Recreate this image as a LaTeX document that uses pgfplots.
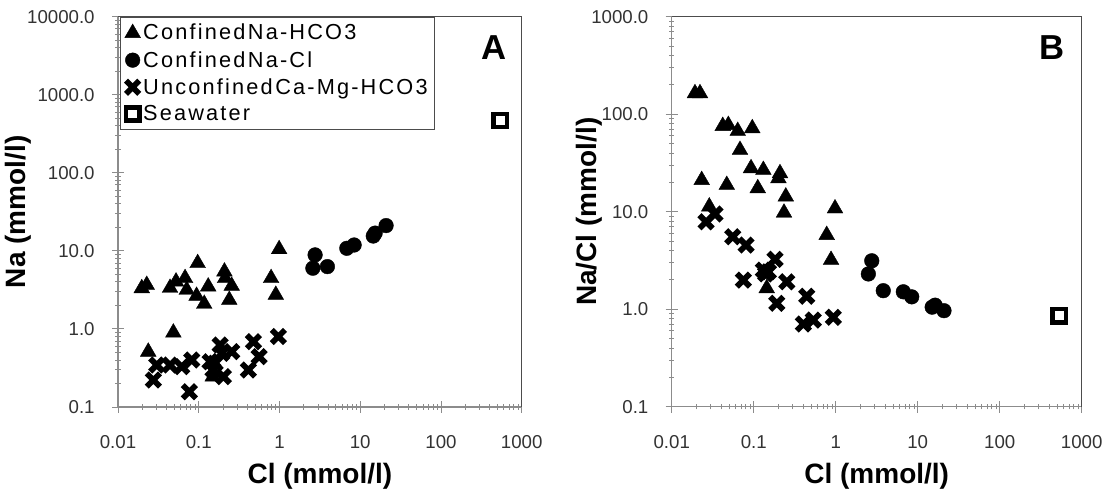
\documentclass[border=0pt]{standalone}
\usepackage{fontspec}
\setmainfont{Liberation Sans}
\newfontfamily\legfont[LetterSpace=10]{Liberation Sans}
\usepackage{pgfplots}
\pgfplotsset{compat=1.18}

\pgfplotsset{
 mylegimg/.style={legend image code/.code={\draw[mark repeat=2,mark phase=2,##1] plot coordinates {(0pt,0pt)(13pt,0pt)(26pt,0pt)};}},
 tri/.style={only marks, mark=triangle*, mark size=6.8pt, mark options={fill=black, draw=black, line width=0.3pt}},
 circ/.style={only marks, mark=*, mark size=5.5pt, mark options={fill=black, draw=black, line width=0.3pt}},
 crs/.style={only marks, mark=x, mark size=7pt, every mark/.append style={line width=4.3pt, draw=black}},
 sqr/.style={only marks, mark=square, mark size=5pt, every mark/.append style={line width=3.4pt, draw=black, fill=white}},
}

\begin{document}
\begin{tikzpicture}
\useasboundingbox (0,0) rectangle (830.25pt,369.75pt);

% ---------------- Panel A ----------------
\begin{axis}[
  xmode=log, ymode=log, scale only axis,
  at={(88.5pt,64.5pt)}, anchor=south west,
  width=302.8pt, height=292.7pt,
  xmin=0.01, xmax=1000,
  xtick={0.01,0.1,1,10,100,1000},
  xticklabels={0.01,0.1,1,10,100,1000},
  minor xtick={0.02,0.03,0.04,0.05,0.06,0.07,0.08,0.09,0.2,0.3,0.4,0.5,0.6,0.7,0.8,0.9,2,3,4,5,6,7,8,9,20,30,40,50,60,70,80,90,200,300,400,500,600,700,800,900},
  ymin=0.1, ymax=10000,
  ytick={0.1,1,10,100,1000,10000},
  yticklabels={0.1,1.0,10.0,100.0,1000.0,10000.0},
  minor ytick={0.2,0.3,0.4,0.5,0.6,0.7,0.8,0.9,2,3,4,5,6,7,8,9,20,30,40,50,60,70,80,90,200,300,400,500,600,700,800,900,2000,3000,4000,5000,6000,7000,8000,9000},
  axis x line*=bottom, axis y line*=left,
  axis line style={black!45, line width=0.9pt, -},
  every tick/.append style={black!45, line width=0.7pt},
  tick align=center,
  major tick length=9pt, minor tick length=4pt,
  tick label style={font=\fontsize{14}{16}\selectfont, text=black!80},
  xticklabel style={anchor=base, yshift=-26.8pt},
  yticklabel style={anchor=east, xshift=-9.5pt},
  label style={font=\fontsize{21}{24}\selectfont\bfseries},
  clip=false,
  xlabel={Cl (mmol/l)}, ylabel={Na (mmol/l)},
  xlabel style={at={(axis description cs:0.5,-0.177)}, anchor=center},
  ylabel style={at={(axis description cs:-0.2477,0.5)}, anchor=center},
  legend style={at={(axis description cs:0.005,1)}, anchor=north west,
    draw=black!70, line width=0.8pt, fill=white,
    font=\legfont\fontsize{16.3}{18}\selectfont,
    inner sep=3.2pt, row sep=3.0pt},
  legend cell align=left,
  mylegimg,
]
\addplot[tri] coordinates {
(0.0197,3.32)(0.0227,3.66)(0.0441,3.35)(0.0523,4.04)(0.0677,4.47)(0.071,3.16)
(0.097,6.96)(0.094,2.65)(0.117,2.09)(0.131,3.49)(0.208,5.43)(0.212,4.47)
(0.256,3.56)(0.239,2.35)(0.787,4.47)(0.90,2.73)(0.99,10.5)(0.0485,0.897)
(0.0237,0.51)(0.149,0.245)};
\addlegendentry{Confined\hspace{0.12em}Na-HCO3}
\addplot[circ] coordinates {
(2.76,8.89)(2.59,6.0)(3.92,6.29)(6.82,10.8)(8.40,11.9)(14.5,15.5)(15.3,16.9)(20.9,21.1)};
\addlegendentry{Confined\hspace{0.12em}Na-Cl}
\addplot[crs] coordinates {
(0.0274,0.222)(0.0302,0.345)(0.0441,0.345)(0.0616,0.329)(0.0765,0.157)(0.0819,0.40)
(0.138,0.381)(0.159,0.363)(0.184,0.624)(0.193,0.488)(0.202,0.245)(0.256,0.512)
(0.412,0.298)(0.475,0.687)(0.559,0.442)(0.969,0.80)(0.15,0.30)};
\addlegendentry{Unconfined\hspace{0.12em}Ca-Mg-HCO3}
\addplot[sqr] coordinates {(541,469)};
\addlegendentry{Seawater}
\draw[black!70, line width=0.8pt] (rel axis cs:0,1) -- (rel axis cs:1,1) -- (rel axis cs:1,0);
\node[font=\fontsize{26}{28}\selectfont\bfseries] at (rel axis cs:0.931,0.922) {A};
\end{axis}

% ---------------- Panel B ----------------
\begin{axis}[
  xmode=log, ymode=log, scale only axis,
  at={(503.8pt,64.7pt)}, anchor=south west,
  width=307.5pt, height=292.5pt,
  xmin=0.01, xmax=1000,
  xtick={0.01,0.1,1,10,100,1000},
  xticklabels={0.01,0.1,1,10,100,1000},
  minor xtick={0.02,0.03,0.04,0.05,0.06,0.07,0.08,0.09,0.2,0.3,0.4,0.5,0.6,0.7,0.8,0.9,2,3,4,5,6,7,8,9,20,30,40,50,60,70,80,90,200,300,400,500,600,700,800,900},
  ymin=0.1, ymax=1000,
  ytick={0.1,1,10,100,1000},
  yticklabels={0.1,1.0,10.0,100.0,1000.0},
  minor ytick={0.2,0.3,0.4,0.5,0.6,0.7,0.8,0.9,2,3,4,5,6,7,8,9,20,30,40,50,60,70,80,90,200,300,400,500,600,700,800,900},
  axis x line*=bottom, axis y line*=left,
  axis line style={black!45, line width=0.9pt, -},
  every tick/.append style={black!45, line width=0.7pt},
  tick align=center,
  major tick length=9pt, minor tick length=4pt,
  tick label style={font=\fontsize{14}{16}\selectfont, text=black!80},
  xticklabel style={anchor=base, yshift=-26.8pt},
  yticklabel style={anchor=east, xshift=-9.5pt},
  label style={font=\fontsize{21}{24}\selectfont\bfseries},
  clip=false,
  xlabel={Cl (mmol/l)}, ylabel={Na/Cl (mmol/l)},
  xlabel style={at={(axis description cs:0.5,-0.177)}, anchor=center},
  ylabel style={at={(axis description cs:-0.2,0.5)}, anchor=center},
]
\addplot[tri] coordinates {
(0.0192,164)(0.0221,164)(0.0419,75.7)(0.049,77.5)(0.0638,67.3)(0.096,71.7)
(0.068,43.0)(0.0927,27.9)(0.131,26.8)(0.209,24.8)(0.20,22.0)(0.112,17.4)
(0.0469,18.8)(0.0232,21.1)(0.246,14.3)(0.234,9.77)(0.98,10.8)(0.0287,11.3)
(0.776,5.77)(0.877,3.2)(0.144,1.64)};
\addplot[circ] coordinates {
(2.75,3.14)(2.50,2.30)(3.80,1.55)(6.67,1.51)(8.45,1.34)(15,1.05)(16.3,1.10)(20.9,0.966)};
\addplot[crs] coordinates {
(0.0262,7.89)(0.0337,9.47)(0.0555,5.54)(0.0806,4.55)(0.0747,1.99)(0.131,2.52)
(0.151,2.42)(0.182,3.25)(0.191,1.15)(0.253,1.91)(0.443,1.36)(0.403,0.705)
(0.533,0.775)(0.935,0.826)(0.14,2.3)};
\addplot[sqr] coordinates {(534,0.858)};
\draw[black!70, line width=0.8pt] (rel axis cs:0,1) -- (rel axis cs:1,1) -- (rel axis cs:1,0);
\node[font=\fontsize{26}{28}\selectfont\bfseries] at (rel axis cs:0.928,0.922) {B};
\end{axis}
\end{tikzpicture}
\end{document}
